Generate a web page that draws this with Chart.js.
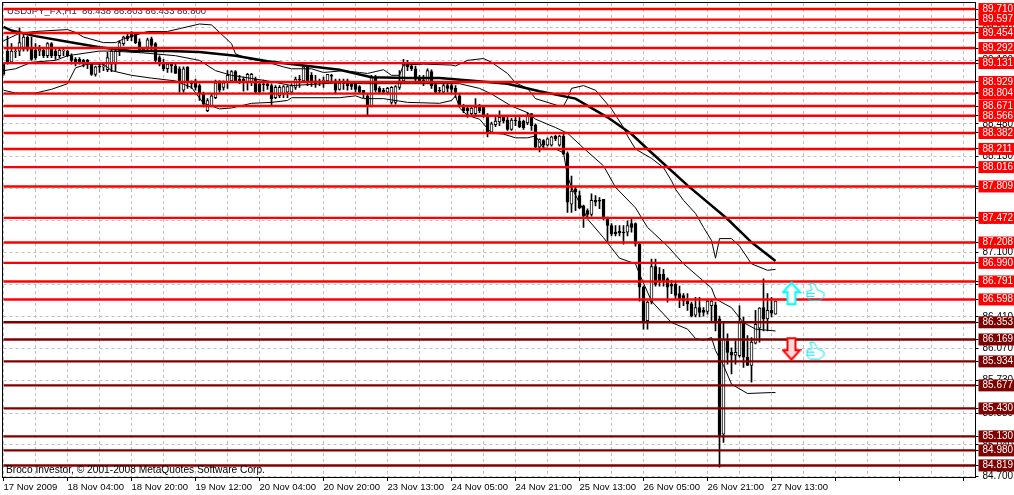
<!DOCTYPE html>
<html>
<head>
<meta charset="utf-8">
<style>
    html, body { margin: 0; padding: 0; background: #fff; }
    canvas { display: block; }
</style>
<script src="https://cdn.jsdelivr.net/npm/chart.js@4/dist/chart.umd.min.js"></script>
</head>
<body>
<canvas id="chart" width="1014" height="495"></canvas>
<script>
const titleText = 'USDJPY_FX,H1  86.438 86.803 86.433 86.800';
const footerText = 'Broco Investor, \u00a9 2001-2008 MetaQuotes Software Corp.';

const timeLabels = ['17 Nov 2009', '18 Nov 04:00', '18 Nov 20:00', '19 Nov 12:00', '20 Nov 04:00', '20 Nov 20:00', '23 Nov 13:00', '24 Nov 05:00', '24 Nov 21:00', '25 Nov 13:00', '26 Nov 05:00', '26 Nov 21:00', '27 Nov 13:00'];
const priceTicks = [84.70, 85.04, 85.38, 85.73, 86.07, 86.41, 86.76, 87.10, 87.44, 87.79, 88.13, 88.48, 88.82, 89.16, 89.51];
const redLevels = [89.710, 89.597, 89.454, 89.292, 89.131, 88.929, 88.804, 88.671, 88.566, 88.382, 88.211, 88.016, 87.809, 87.472, 87.208, 86.990, 86.791, 86.598];
const maroonLevels = [86.353, 86.169, 85.934, 85.677, 85.430, 85.130, 84.980, 84.819];

const opens = [
    89.12,89.26,89.14,89.25,89.26,89.28,89.41,89.28,89.27,89.26,
    89.27,89.21,89.34,89.26,89.21,89.26,89.26,89.21,89.17,89.17,
    89.16,89.16,89.12,89.01,89.10,89.09,89.06,89.12,89.12,89.28,
    89.34,89.42,89.45,89.44,89.36,89.28,89.30,89.39,89.34,89.19,
    89.12,89.07,89.12,89.10,89.07,88.84,89.09,88.92,88.94,88.89,
    88.80,88.62,88.67,88.76,88.94,88.87,88.92,88.94,89.04,88.96,
    88.96,88.92,88.92,88.96,88.91,88.91,88.91,88.89,88.76,88.78,
    88.80,88.82,88.82,88.87,88.96,88.94,89.09,89.00,88.94,88.94,
    88.93,88.94,89.00,88.94,88.85,88.92,88.94,88.91,88.91,88.88,
    88.84,88.78,88.67,88.98,88.86,88.84,88.82,88.71,88.71,88.87,
    88.94,89.12,89.10,89.07,88.98,88.95,88.92,89.04,88.90,88.84,
    88.82,88.89,88.89,88.86,88.78,88.66,88.65,88.59,88.59,88.66,
    88.66,88.57,88.39,88.47,88.50,88.55,88.52,88.42,88.52,88.51,
    88.51,88.49,88.59,88.47,88.23,88.30,88.25,88.25,88.35,88.25,
    88.35,88.16,87.62,87.78,87.71,87.60,87.55,87.51,87.66,87.66,
    87.67,87.48,87.39,87.32,87.33,87.32,87.32,87.41,87.41,87.19,
    86.73,86.37,86.57,86.95,86.87,86.87,86.82,86.76,86.76,86.66,
    86.64,86.58,86.55,86.43,86.51,86.48,86.47,86.53,86.54,86.39,
    85.155,86.155,86.03,86.00,85.995,86.35,85.98,85.89,86.13,86.29,
    86.51,86.39,86.48,86.44
];
const highs = [
    89.14,89.42,89.34,89.30,89.51,89.44,89.42,89.41,89.34,89.32,
    89.30,89.35,89.35,89.30,89.30,89.30,89.27,89.23,89.19,89.19,
    89.17,89.17,89.14,89.10,89.12,89.13,89.25,89.28,89.28,89.37,
    89.42,89.44,89.47,89.44,89.39,89.30,89.40,89.41,89.35,89.21,
    89.17,89.14,89.13,89.12,89.09,89.09,89.09,88.94,88.96,88.91,
    88.82,88.75,88.80,88.95,88.94,88.94,89.05,89.05,89.05,89.00,
    88.98,89.02,89.02,88.98,88.94,88.95,88.92,88.91,88.89,88.89,
    88.89,88.89,88.91,88.98,89.00,89.10,89.10,89.03,89.00,88.96,
    88.98,89.01,89.01,88.96,88.96,88.96,88.96,88.92,88.92,88.89,
    88.84,88.80,89.00,89.00,88.88,88.86,88.87,88.88,88.89,89.05,
    89.17,89.16,89.14,89.10,89.00,89.00,89.07,89.06,88.91,88.87,
    88.91,88.92,88.91,88.89,88.80,88.69,88.67,88.67,88.75,88.69,
    88.67,88.59,88.50,88.57,88.62,88.57,88.55,88.54,88.55,88.55,
    88.52,88.60,88.59,88.48,88.32,88.31,88.33,88.35,88.36,88.36,
    88.37,88.18,87.92,87.80,87.76,87.61,87.57,87.73,87.71,87.69,
    87.67,87.48,87.41,87.39,87.39,87.39,87.44,87.46,87.42,87.21,
    86.74,86.58,87.03,87.03,86.94,86.92,86.83,86.80,86.78,86.74,
    86.66,86.66,86.57,86.62,86.62,86.51,86.60,86.60,86.57,86.42,
    86.35,86.23,86.08,86.155,86.53,86.41,86.21,86.19,86.48,86.51,
    86.82,86.66,86.62,86.58
];
const lows = [
    89.00,89.12,89.13,89.19,89.21,89.26,89.26,89.16,89.17,89.21,
    89.19,89.19,89.19,89.17,89.19,89.21,89.20,89.12,89.10,89.12,
    89.09,89.07,89.00,88.99,89.03,89.05,89.04,89.04,89.05,89.21,
    89.32,89.37,89.37,89.34,89.25,89.25,89.26,89.26,89.14,89.10,
    89.05,89.03,89.03,89.02,88.82,88.82,88.86,88.86,88.84,88.73,
    88.66,88.61,88.66,88.75,88.82,88.84,88.86,88.92,88.92,88.91,
    88.83,88.84,88.89,88.81,88.81,88.83,88.85,88.67,88.75,88.76,
    88.76,88.76,88.80,88.85,88.87,88.92,88.89,88.88,88.87,88.89,
    88.87,88.93,88.94,88.80,88.84,88.85,88.84,88.85,88.82,88.81,
    88.76,88.57,88.66,88.82,88.81,88.80,88.80,88.69,88.69,88.85,
    88.92,89.05,89.05,88.94,88.92,88.89,88.91,88.86,88.81,88.81,
    88.81,88.82,88.81,88.76,88.66,88.60,88.55,88.57,88.57,88.60,
    88.55,88.34,88.38,88.45,88.46,88.49,88.41,88.41,88.46,88.44,
    88.42,88.47,88.41,88.21,88.18,88.23,88.24,88.24,88.30,88.24,
    88.15,87.53,87.53,87.55,87.57,87.37,87.48,87.49,87.60,87.57,
    87.45,87.21,87.28,87.28,87.28,87.19,87.28,87.32,87.17,86.58,
    86.28,86.28,86.55,86.74,86.74,86.74,86.57,86.66,86.60,86.51,
    86.53,86.48,86.41,86.41,86.41,86.42,86.44,86.35,86.26,84.80,
    85.065,85.905,85.80,85.905,85.98,85.87,85.89,85.71,86.12,86.14,
    86.26,86.26,86.41,86.44
];
const closes = [
    89.01,89.14,89.26,89.26,89.35,89.41,89.28,89.17,89.19,89.28,
    89.21,89.34,89.21,89.21,89.27,89.27,89.21,89.16,89.14,89.14,
    89.12,89.12,89.01,89.09,89.09,89.10,89.19,89.26,89.26,89.35,
    89.41,89.39,89.41,89.35,89.26,89.26,89.38,89.32,89.16,89.12,
    89.07,89.12,89.10,89.02,88.92,89.07,88.92,88.91,88.87,88.80,
    88.69,88.73,88.78,88.92,88.84,88.92,89.00,89.04,88.94,88.94,
    88.92,89.01,89.01,88.82,88.82,88.90,88.89,88.75,88.87,88.87,
    88.88,88.88,88.89,88.96,88.95,89.09,88.94,88.92,88.91,88.93,
    88.95,89.01,88.99,88.84,88.92,88.91,88.89,88.88,88.85,88.82,
    88.80,88.67,88.98,88.84,88.82,88.82,88.86,88.87,88.88,88.94,
    89.12,89.09,89.07,88.96,88.94,88.92,89.05,88.89,88.82,88.83,
    88.89,88.86,88.85,88.82,88.67,88.62,88.62,88.65,88.66,88.62,
    88.57,88.39,88.48,88.51,88.55,88.51,88.42,88.52,88.51,88.45,
    88.44,88.57,88.46,88.23,88.31,88.25,88.32,88.34,88.32,88.35,
    88.16,87.64,87.76,87.75,87.58,87.49,87.51,87.66,87.64,87.65,
    87.46,87.39,87.30,87.30,87.31,87.31,87.39,87.37,87.19,86.73,
    86.35,86.57,86.95,86.76,86.80,86.80,86.73,86.74,86.64,86.60,
    86.58,86.55,86.42,86.51,86.46,86.46,86.58,86.58,86.37,85.14,
    86.17,86.03,86.00,86.03,86.35,85.98,85.89,86.14,86.33,86.505,
    86.39,86.48,86.45,86.58
];

// indicator lines, [candle index, price]
const movingAverage = [[0,89.52],[2,89.48],[8,89.42],[16,89.36],[24,89.30],[32,89.26],[41,89.26],[49,89.25],[58,89.21],[66,89.15],[74,89.11],[84,89.06],[92,88.98],[101,88.97],[109,88.97],[118,88.94],[126,88.91],[134,88.83],[143,88.75],[151,88.55],[157,88.37],[161,88.21],[171,87.82],[181,87.46],[187,87.21],[193,87.01]];
const upperBand = [[0,89.37],[4,89.45],[8,89.47],[16,89.49],[18,89.46],[20,89.41],[25,89.35],[28,89.35],[30,89.39],[36,89.47],[41,89.47],[44,89.50],[49,89.55],[52,89.54],[54,89.46],[57,89.34],[58,89.23],[61,89.18],[66,89.14],[70,89.09],[72,89.07],[77,89.07],[80,89.03],[85,89.05],[89,89.03],[91,89.02],[95,89.06],[97,89.00],[99,89.00],[100,89.11],[105,89.12],[112,89.11],[113,89.10],[116,89.16],[120,89.18],[122,89.14],[126,89.02],[128,88.92],[131,88.86],[133,88.75],[139,88.67],[140,88.67],[141,88.75],[142,88.86],[145,88.89],[148,88.84],[152,88.64],[155,88.44],[156,88.35],[158,88.21],[160,88.16],[162,88.11],[165,88.01],[167,87.87],[168,87.78],[170,87.66],[173,87.52],[175,87.37],[177,87.23],[178,87.04],[179,87.25],[182,87.25],[184,87.17],[187,86.98],[191,86.91],[193,86.92]];
const middleBand = [[0,89.05],[3,89.07],[7,89.14],[13,89.16],[16,89.21],[24,89.26],[27,89.26],[35,89.24],[43,89.21],[49,89.16],[53,89.05],[57,89.00],[66,88.94],[72,88.89],[84,88.92],[90,88.91],[102,88.91],[114,88.91],[119,88.86],[122,88.80],[127,88.67],[131,88.60],[133,88.53],[138,88.44],[141,88.38],[145,88.22],[150,88.03],[153,87.80],[158,87.58],[161,87.37],[166,87.17],[170,86.98],[177,86.72],[178,86.61],[179,86.58],[182,86.51],[185,86.35],[188,86.28],[193,86.26]];
const lowerBand = [[0,88.84],[3,88.81],[8,88.81],[12,88.85],[16,88.91],[18,89.08],[21,89.12],[25,89.12],[27,89.05],[32,89.00],[37,88.97],[43,88.94],[47,88.87],[50,88.70],[54,88.64],[57,88.65],[62,88.70],[67,88.71],[71,88.73],[72,88.76],[84,88.76],[88,88.78],[90,88.75],[95,88.75],[101,88.71],[109,88.70],[112,88.73],[113,88.78],[114,88.65],[116,88.57],[119,88.53],[122,88.38],[125,88.37],[128,88.33],[131,88.33],[133,88.35],[135,88.22],[138,88.21],[140,88.17],[141,87.92],[142,87.80],[145,87.55],[146,87.46],[150,87.26],[154,87.04],[158,86.98],[159,86.87],[162,86.58],[167,86.35],[171,86.28],[173,86.18],[175,86.16],[177,86.19],[178,86.05],[180,85.89],[182,85.69],[186,85.59],[192,85.60],[193,85.60]];

const upArrowMark = [197, 86.66];
const downArrowMark = [197, 86.07];
const upHandMark = [203, 86.68];
const downHandMark = [203, 86.05];

const SLOT_COUNT = 244;
const slots = Array.from({ length: SLOT_COUNT }, (_, i) => i);
const levels = [...redLevels, ...maroonLevels];

function sparse(knots) {
    const out = new Array(SLOT_COUNT).fill(null);
    knots.forEach(([i, v]) => { out[i] = v; });
    return out;
}

function flatLine(level, color) {
    return {
        type: 'line', data: slots.map(() => level), borderColor: color,
        borderWidth: 2.4, pointRadius: 0, order: 2,
    };
}

function indicator(knots, width) {
    return {
        type: 'line', data: sparse(knots), borderColor: '#000', borderWidth: width,
        pointRadius: 0, spanGaps: true, order: 3,
    };
}

function sprite(w, h, paint) {
    const c = document.createElement('canvas');
    c.width = w;
    c.height = h;
    paint(c.getContext('2d'));
    return c;
}

function arrowPath(ctx, pts) {
    ctx.beginPath();
    pts.forEach(([x, y], i) => (i ? ctx.lineTo(x, y) : ctx.moveTo(x, y)));
    ctx.closePath();
}

const upArrow = sprite(20, 25, ctx => {
    arrowPath(ctx, [[10, 1.5], [18.5, 11], [14, 11], [14, 23], [6, 23], [6, 11], [1.5, 11]]);
    ctx.fillStyle = '#fff';
    ctx.fill();
    ctx.lineWidth = 2;
    ctx.strokeStyle = '#00ffff';
    ctx.stroke();
});

const downArrow = sprite(20, 25, ctx => {
    arrowPath(ctx, [[6, 2], [14, 2], [14, 14], [18.5, 14], [10, 23.5], [1.5, 14], [6, 14]]);
    ctx.fillStyle = '#ffd9d9';
    ctx.fill();
    ctx.lineWidth = 2;
    ctx.strokeStyle = '#ff0000';
    ctx.stroke();
});

const hand = sprite(20, 20, ctx => {
    ctx.strokeStyle = '#00e8f0';
    ctx.lineWidth = 1;
    ctx.beginPath();
    ctx.moveTo(4.5, 1.5);
    ctx.lineTo(8.5, 1.5);
    ctx.lineTo(12, 8);
    ctx.lineTo(18.5, 11);
    ctx.lineTo(18.5, 15);
    ctx.lineTo(14, 18.5);
    ctx.lineTo(4.5, 18.5);
    ctx.lineTo(1.5, 15);
    ctx.lineTo(1.5, 9.5);
    ctx.lineTo(6.5, 8);
    ctx.closePath();
    ctx.stroke();
    [11.5, 14.5].forEach(y => {
        ctx.beginPath();
        ctx.moveTo(2, y);
        ctx.lineTo(9, y);
        ctx.stroke();
    });
});

function mark(at, style) {
    return {
        type: 'line', data: sparse([at]), showLine: false, pointStyle: style,
        pointRadius: 10, order: 1,
    };
}

const annotationPlugin = {
    id: 'annotation',
    beforeDatasetsDraw(chart) {
        const ctx = chart.ctx;
        ctx.save();
        ctx.font = '9.5px "Liberation Sans"';
        ctx.fillStyle = '#14284b';
        ctx.textBaseline = 'middle';
        ctx.fillText(titleText, 7, 11);
        ctx.restore();
    },
    afterDraw(chart) {
        const { ctx, chartArea: a } = chart;
        ctx.save();
        ctx.font = '10.2px "Liberation Sans"';
        ctx.fillStyle = '#000';
        ctx.textBaseline = 'middle';
        ctx.fillText(footerText, 6, 470);
        ctx.strokeStyle = '#000';
        ctx.lineWidth = 1;
        ctx.strokeRect(a.left - 1, a.top - 0.5, a.width + 1, a.height + 1);
        ctx.restore();
    },
};

new Chart(document.getElementById('chart'), {
    type: 'bar',
    data: {
        labels: slots,
        datasets: [
            ...redLevels.map(l => flatLine(l, '#ff0000')),
            ...maroonLevels.map(l => flatLine(l, '#800000')),
            indicator(movingAverage, 2.5),
            indicator(upperBand, 1),
            indicator(middleBand, 1),
            indicator(lowerBand, 1),
            {
                data: opens.map((o, i) => [o, closes[i]]),
                backgroundColor: opens.map((o, i) => (closes[i] >= o ? '#fff' : '#000')),
                borderColor: '#000',
                borderWidth: 1,
                borderSkipped: false,
                barThickness: 3,
                grouped: false,
                order: 4,
            },
            {
                data: lows.map((l, i) => [l, highs[i]]),
                backgroundColor: '#000',
                barThickness: 1,
                grouped: false,
                order: 5,
            },
            mark(upArrowMark, upArrow),
            mark(downArrowMark, downArrow),
            mark(upHandMark, hand),
            mark(downHandMark, hand),
        ],
    },
    options: {
        responsive: false,
        animation: false,
        events: [],
        layout: { autoPadding: false, padding: { left: 3.5, top: 3 } },
        plugins: { legend: { display: false }, tooltip: { enabled: false } },
        scales: {
            x: {
                offset: false,
                afterBuildTicks: scale => {
                    scale.ticks = scale.ticks.filter(t => t.value % 8 === 0);
                },
                afterFit: scale => {
                    scale.height = 18;
                    scale.paddingLeft = 0;
                    scale.paddingRight = 0;
                },
                grid: {
                    offset: false,
                    color: '#c0c0c0',
                    tickLength: 4,
                    tickColor: c => (c.tick && c.tick.value % 16 === 0 ? '#000' : 'rgba(0,0,0,0)'),
                },
                border: { color: '#000', dash: [3, 3] },
                ticks: {
                    autoSkip: false,
                    maxRotation: 0,
                    align: 'start',
                    padding: 1,
                    color: '#000',
                    font: { family: '"Liberation Sans"', size: 9.5 },
                    callback: v => (v % 16 === 0 && timeLabels[v / 16]) || '',
                },
            },
            y: {
                position: 'right',
                bounds: 'data',
                min: 84.695,
                max: 89.775,
                afterBuildTicks: scale => {
                    scale.ticks = [...priceTicks, ...levels].map(value => ({ value }));
                },
                afterFit: scale => {
                    scale.width = 38.5;
                    scale.paddingTop = 0;
                    scale.paddingBottom = 0;
                },
                grid: {
                    color: c => (c.tick && levels.includes(c.tick.value) ? 'rgba(0,0,0,0)' : '#c0c0c0'),
                    tickLength: 3,
                    tickColor: '#000',
                },
                border: { color: '#000', dash: [3, 3] },
                ticks: {
                    autoSkip: false,
                    padding: 4,
                    font: { family: '"Liberation Sans"', size: 10 },
                    color: c => (levels.includes(c.tick.value) ? '#fff' : '#000'),
                    showLabelBackdrop: c => levels.includes(c.tick.value),
                    backdropColor: c => (maroonLevels.includes(c.tick.value) ? '#800000' : '#ff0000'),
                    backdropPadding: { left: 4, right: 4, top: 0, bottom: 0 },
                    callback: v => v.toFixed(3),
                },
            },
        },
    },
    plugins: [annotationPlugin],
});
</script>
</body>
</html>
